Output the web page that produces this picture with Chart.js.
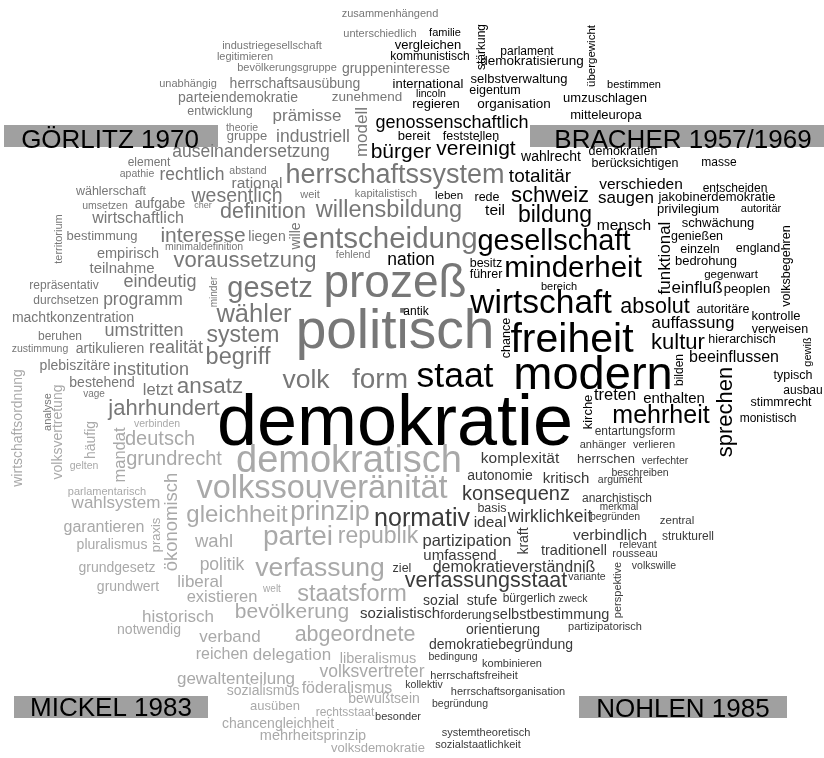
<!DOCTYPE html>
<html>
<head>
<meta charset="utf-8">
<script src="https://cdn.jsdelivr.net/npm/chart.js@4.4.0/dist/chart.umd.min.js"></script>
<style>
  html, body { margin: 0; padding: 0; background: #fff; }
</style>
</head>
<body>
<canvas id="cloud" width="824" height="758"></canvas>
<script>
// word, x, y (baseline), frequency (drawn as px size), vertical
const goerlitz = [
  ["zusammenhängend",390,17,11], ["unterschiedlich",380,37,11],
  ["industriegesellschaft",272,49,11], ["legitimieren",245,60,11],
  ["bevölkerungsgruppe",287,71,11], ["gruppeninteresse",396,73,14],
  ["unabhängig",188,87,11], ["herrschaftsausübung",295,88,14],
  ["zunehmend",367,101,13.5], ["parteiendemokratie",238,102,14],
  ["entwicklung",220,115,12.5], ["prämisse",307,121,17],
  ["theorie",242,131,10.5], ["gruppe",247,140,13],
  ["industriell",313,142,17.5], ["modell",367,132,17,1],
  ["auseinandersetzung",251,157,17.5], ["element",149,166,12],
  ["apathie",137,177,10.5], ["rechtlich",192,180,17.5],
  ["abstand",248,174,10.5], ["rational",257,188,15.5],
  ["herrschaftssystem",395,183,27], ["wählerschaft",111,195,12.5],
  ["umsetzen",105,209,10.5], ["aufgabe",160,208,14],
  ["cher",203,208,9], ["wesentlich",237,202,19.5],
  ["weit",310,198,11], ["kapitalistisch",386,197,11],
  ["definition",263,218,21.5], ["willensbildung",389,217,23.5],
  ["wirtschaftlich",138,223,16], ["territorium",62,239,11,1],
  ["wille",300,236,14,1], ["entscheidung",390,248,29.5],
  ["bestimmung",102,240,13], ["interesse",203,242,21],
  ["liegen",267,241,14], ["minimaldefinition",204,250,10.5],
  ["fehlend",353,258,10.5], ["empirisch",128,258,14.5],
  ["voraussetzung",245,267,22], ["teilnahme",122,273,15],
  ["eindeutig",160,287,18], ["repräsentativ",64,289,12],
  ["minder",217,292,10,1], ["gesetz",270,297,29],
  ["prozeß",395,297,46], ["durchsetzen",66,304,12],
  ["programm",143,305,17.5], ["wähler",254,322,25.5],
  ["machtkonzentration",73,322,14], ["umstritten",144,336,18],
  ["system",243,342,23], ["politisch",395,348,55],
  ["beruhen",60,340,12], ["zustimmung",40,352,10.5],
  ["artikulieren",110,353,14], ["realität",176,353,18],
  ["begriff",238,364,23.5], ["plebiszitäre",75,370,14],
  ["institution",151,375,18], ["volk",306,388,26.5],
  ["form",380,388,28], ["bestehend",102,387,14],
  ["vage",94,397,10], ["letzt",158,395,16.5],
  ["ansatz",210,393,22.5], ["jahrhundert",164,415,22],
  ["analyse",51,412,11,1]
];

const bracher = [
  ["familie",445,36,11], ["vergleichen",428,49,13],
  ["kommunistisch",430,60,12], ["stärkung",485,47,12,1],
  ["parlament",527,55,12], ["demokratisierung",532,65,13.5],
  ["übergewicht",595,56,11.5,1], ["selbstverwaltung",519,83,13],
  ["international",428,88,13], ["lincoln",431,97,10.5],
  ["eigentum",495,94,12.5], ["regieren",436,108,13],
  ["organisation",514,108,13.5], ["bestimmen",634,88,11],
  ["umzuschlagen",605,102,13], ["mitteleuropa",606,119,13],
  ["genossenschaftlich",452,128,18], ["bereit",414,140,13],
  ["feststellen",471,140,12.5], ["bürger",401,158,21],
  ["vereinigt",476,155,21], ["wahlrecht",551,161,14],
  ["demokratien",623,155,12.5], ["berücksichtigen",635,167,12.5],
  ["masse",719,166,12], ["totalitär",540,182,19],
  ["verschieden",641,189,15.5], ["entscheiden",735,192,12],
  ["leben",449,199,11.5], ["rede",487,201,12.5],
  ["schweiz",550,202,22], ["saugen",626,203,17],
  ["jakobinerdemokratie",717,201,13], ["privilegium",688,213,13],
  ["autoritär",761,212,11], ["teil",495,215,15.5],
  ["bildung",555,222,23], ["mensch",624,230,15.5],
  ["schwächung",718,227,13], ["funktional",670,258,17,1],
  ["genießen",697,240,12.5], ["gesellschaft",554,250,29],
  ["einzeln",700,253,12.5], ["england",758,252,12.5],
  ["volksbegehren",790,266,12.5,1], ["bedrohung",706,265,13],
  ["nation",411,265,17.5], ["besitz",486,267,12.5],
  ["führer",486,278,12.5], ["minderheit",573,277,29.5],
  ["gegenwart",731,278,11.5], ["bereich",559,290,11],
  ["einfluß",697,293,17], ["peoplen",747,293,13],
  ["wirtschaft",541,313,33.5], ["absolut",655,313,21.5],
  ["autoritäre",723,313,12.5], ["antik",416,315,12],
  ["kontrolle",776,320,13], ["auffassung",693,328,17],
  ["verweisen",780,333,12.5], ["chance",510,338,12.5,1],
  ["hierarchisch",742,343,12.5], ["kultur",678,349,22],
  ["freiheit",572,352,41], ["gewiß",811,352,11,1],
  ["beeinflussen",734,362,16], ["bilden",683,370,12,1],
  ["typisch",793,379,12.5], ["modern",593,389,47],
  ["staat",455,387,35.5], ["ausbau",803,394,12],
  ["treten",615,400,16.5], ["enthalten",674,403,15],
  ["stimmrecht",781,406,12.5], ["kirche",592,412,13,1],
  ["sprechen",732,412,22,1], ["mehrheit",661,423,25],
  ["monistisch",768,422,12], ["demokratie",395,445,72]
];

const mickel = [
  ["wirtschaftsordnung",22,428,14,1], ["volksvertretung",62,432,14,1],
  ["häufig",95,440,14,1], ["mandat",125,455,16.5,1],
  ["verbinden",157,427,10.5], ["deutsch",160,445,20],
  ["grundrecht",174,465,20], ["gelten",84,469,10.5],
  ["demokratisch",349,472,38], ["parlamentarisch",107,495,11],
  ["volkssouveränität",322,498,32.5], ["wahlsystem",116,508,17],
  ["ökonomisch",177,522,18.5,1], ["gleichheit",237,522,24],
  ["prinzip",330,520,27], ["garantieren",104,532,16],
  ["praxis",160,535,13,1], ["partei",298,545,28],
  ["republik",378,543,23], ["wahl",214,547,18.5],
  ["pluralismus",112,549,14], ["grundgesetz",117,572,14],
  ["politik",222,570,17.5], ["verfassung",320,576,26.5],
  ["grundwert",128,591,14], ["liberal",200,587,17],
  ["welt",272,592,10], ["existieren",222,602,16.5],
  ["staatsform",352,601,23.5], ["historisch",178,622,17],
  ["bevölkerung",292,618,21], ["notwendig",149,634,14],
  ["verband",230,642,17], ["abgeordnete",355,641,21.5],
  ["reichen",222,659,16], ["delegation",292,660,17],
  ["liberalismus",378,663,14.5], ["gewaltenteilung",236,684,17],
  ["volksvertreter",372,677,17.5], ["sozialismus",263,695,14],
  ["föderalismus",347,693,16], ["ausüben",275,710,13],
  ["bewußtsein",384,703,14], ["rechtsstaat",345,716,12],
  ["chancengleichheit",278,728,14], ["mehrheitsprinzip",313,740,14.5],
  ["volksdemokratie",378,752,13]
];

const nohlen = [
  ["entartungsform",635,435,12], ["anhänger",603,448,11],
  ["verlieren",654,448,11], ["komplexität",520,463,15.5],
  ["herrschen",606,463,13], ["verfechter",665,464,10.5],
  ["beschreiben",640,476,10.5], ["autonomie",500,480,14],
  ["kritisch",566,483,15], ["argument",620,483,10.5],
  ["konsequenz",516,500,20], ["anarchistisch",617,502,12],
  ["merkmal",619,510,10], ["basis",492,512,12.5],
  ["begründen",615,520,10.5], ["zentral",677,524,11.5],
  ["normativ",422,526,25], ["ideal",490,527,15.5],
  ["wirklichkeit",550,522,17.5], ["verbindlich",610,540,15.5],
  ["strukturell",688,540,12], ["kraft",528,541,14,1],
  ["partizipation",467,546,16.5], ["relevant",638,548,10.5],
  ["traditionell",574,555,14.5], ["rousseau",635,557,11],
  ["umfassend",460,560,15], ["volkswille",654,569,10.5],
  ["ziel",402,572,12.5], ["demokratieverständniß",514,572,16],
  ["variante",587,580,10.5], ["verfassungsstaat",486,587,21.5],
  ["perspektive",621,590,11,1], ["bürgerlich",529,602,12],
  ["zweck",573,602,10.5], ["sozial",441,605,14],
  ["stufe",482,605,14], ["sozialistisch",400,618,15],
  ["forderung",466,619,12], ["selbstbestimmung",551,619,14.5],
  ["partizipatorisch",605,630,11], ["orientierung",503,634,14],
  ["demokratiebegründung",501,649,14], ["bedingung",453,660,10.5],
  ["kombinieren",512,667,11], ["herrschaftsfreiheit",474,679,11],
  ["kollektiv",424,688,10.5], ["herrschaftsorganisation",508,695,11],
  ["begründung",460,707,10.5], ["besonder",398,720,11],
  ["systemtheoretisch",486,736,11], ["sozialstaatlichkeit",478,748,11]
];

// source labels: text, box left, box right, box top, box bottom, text x, text baseline
const sources = [
  ["GÖRLITZ 1970", 4, 218, 125, 147, 110, 148],
  ["BRACHER 1957/1969", 530, 824, 125, 147, 683, 148],
  ["MICKEL 1983", 14, 208, 696, 718, 111, 716],
  ["NOHLEN 1985", 579, 787, 696, 718, 683, 717]
];

const groups = [
  { words: goerlitz, color: '#777777' },
  { words: bracher, color: '#000000' },
  { words: mickel, color: '#a9a9a9' },
  { words: nohlen, color: '#3a3a3a' }
];

const FONT = '"Liberation Sans", Arial, Helvetica, sans-serif';

const cloudPlugin = {
  id: 'cloudPlugin',
  beforeDatasetsDraw(chart) {
    const ctx = chart.ctx;
    const xs = chart.scales.x, ys = chart.scales.y;
    sources.forEach(s => {
      const l = xs.getPixelForValue(s[1]), r = xs.getPixelForValue(s[2]);
      const t = ys.getPixelForValue(s[3]), b = ys.getPixelForValue(s[4]);
      ctx.save();
      ctx.fillStyle = '#a0a0a0';
      ctx.fillRect(l, t, r - l, b - t);
      ctx.fillStyle = '#000';
      ctx.font = '26px ' + FONT;
      ctx.textAlign = 'center';
      ctx.textBaseline = 'alphabetic';
      ctx.fillText(s[0], xs.getPixelForValue(s[5]), ys.getPixelForValue(s[6]));
      ctx.restore();
    });
  },
  afterDatasetsDraw(chart) {
    const ctx = chart.ctx;
    chart.data.datasets.forEach((ds, i) => {
      const meta = chart.getDatasetMeta(i);
      ds.words.forEach((w, j) => {
        const pt = meta.data[j];
        ctx.save();
        ctx.fillStyle = ds.textColor;
        ctx.font = w[3] + 'px ' + FONT;
        ctx.textAlign = 'center';
        ctx.textBaseline = 'alphabetic';
        ctx.translate(pt.x, pt.y);
        if (w[4]) ctx.rotate(-Math.PI / 2);
        ctx.fillText(w[0], 0, 0);
        ctx.restore();
      });
    });
  }
};

new Chart(document.getElementById('cloud'), {
  type: 'scatter',
  data: {
    datasets: groups.map((g, i) => ({
      label: sources[i][0],
      words: g.words,
      textColor: g.color,
      data: g.words.map(w => ({ x: w[1], y: w[2] })),
      pointRadius: 0,
      pointHoverRadius: 0
    }))
  },
  options: {
    responsive: false,
    animation: false,
    devicePixelRatio: 1,
    layout: { padding: 0 },
    plugins: { legend: { display: false }, tooltip: { enabled: false } },
    scales: {
      x: { type: 'linear', min: 0, max: 824, display: false },
      y: { type: 'linear', min: 0, max: 758, reverse: true, display: false }
    }
  },
  plugins: [cloudPlugin]
});
</script>
</body>
</html>
